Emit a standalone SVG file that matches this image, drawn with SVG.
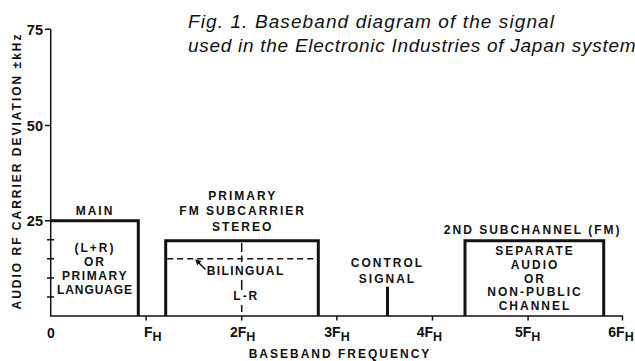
<svg xmlns="http://www.w3.org/2000/svg" width="635" height="361" viewBox="0 0 635 361">
<style>
text{font-family:"Liberation Sans",Arial,sans-serif;fill:#111;}
.lb{font-size:12px;font-weight:bold;letter-spacing:2px;text-anchor:middle;}
.ax{font-size:14px;font-weight:bold;}
.sub{font-size:12.5px;}
.yt{font-size:14.5px;font-weight:bold;text-anchor:end;}
.title{font-size:19px;font-style:italic;letter-spacing:1.1px;}
.thin{fill:none;stroke:#111;stroke-width:1.5;}
.thick{fill:none;stroke:#111;stroke-width:3;}
.dash{fill:none;stroke:#111;stroke-width:1.5;stroke-dasharray:6 4;}
</style>
<defs>
<marker id="ah" viewBox="0 0 10 10" refX="1" refY="5" markerWidth="6" markerHeight="6" orient="auto-start-reverse" markerUnits="userSpaceOnUse">
<path d="M0,0 L10,5 L0,10 z" fill="#111"/>
</marker>
</defs>
<rect width="635" height="361" fill="#fff"/>
<g id="title">
<text class="title" x="188" y="28">Fig. 1. Baseband diagram of the signal</text>
<text class="title" x="188" y="52" style="letter-spacing:0.72px">used in the Electronic Industries of Japan system</text>
</g>
<g id="axes">
<path class="thin" d="M50.7,29.3 V316 H623"/>
<path class="thin" d="M45,29.3 H50.7 M45,125.5 H50.7 M45,220.7 H50.7"/>
<path class="thin" d="M47,239.8 H54 M47,258.8 H54 M47,277.9 H54 M47,296.9 H54"/>
<path class="thin" d="M146.1,316 V320.5 M241.7,316 V320.5 M336.9,316 V320.5 M432.5,316 V320.5 M528.1,316 V320.5 M622.5,316 V320.5"/>
<text class="yt" x="43" y="34.5">75</text>
<text class="yt" x="43" y="131">50</text>
<text class="yt" x="43" y="226">25</text>
<text class="ax" x="51" y="338" text-anchor="middle">0</text>
<text class="ax" x="144" y="336.7">F<tspan class="sub" dy="4">H</tspan></text>
<text class="ax" x="230" y="336.7">2F<tspan class="sub" dy="4">H</tspan></text>
<text class="ax" x="324.3" y="336.7">3F<tspan class="sub" dy="4">H</tspan></text>
<text class="ax" x="416.7" y="336.7">4F<tspan class="sub" dy="4">H</tspan></text>
<text class="ax" x="515" y="336.7">5F<tspan class="sub" dy="4">H</tspan></text>
<text class="ax" x="608.3" y="336.7">6F<tspan class="sub" dy="4">H</tspan></text>
<text class="lb" x="340" y="358">BASEBAND FREQUENCY</text>
<text class="lb" transform="translate(21,171) rotate(-90)">AUDIO RF CARRIER DEVIATION ±kHz</text>
</g>
<g id="main">
<path class="thick" d="M50.7,220.7 H138.3 V316"/>
<text class="lb" x="95" y="215">MAIN</text>
<text class="lb" x="95" y="252">(L+R)</text>
<text class="lb" x="95" y="266">OR</text>
<text class="lb" x="95" y="280" style="letter-spacing:1.6px">PRIMARY</text>
<text class="lb" x="95" y="294" style="letter-spacing:0.9px">LANGUAGE</text>
</g>
<g id="stereo">
<path class="thick" d="M165.7,316 V240.7 H318.3 V316"/>
<path class="dash" d="M167.2,258.8 H317"/>
<path class="thin" d="M241.7,243 V252 M241.7,255.5 V262 M241.7,280 V290 M241.7,305 V312"/>
<text class="lb" x="242.7" y="199.5">PRIMARY</text>
<text class="lb" x="242.7" y="215">FM SUBCARRIER</text>
<text class="lb" x="242.7" y="230.5">STEREO</text>
<text class="lb" x="206.7" y="275" style="text-anchor:start;letter-spacing:1.4px">BILINGUAL</text>
<text class="lb" x="233.3" y="300" style="text-anchor:start">L-R</text>
</g>
<g id="control">
<path class="thick" d="M387.5,286.7 V316"/>
<text class="lb" x="387.5" y="267.3">CONTROL</text>
<text class="lb" x="387.5" y="282.7">SIGNAL</text>
</g>
<g id="subchannel2">
<path class="thick" d="M465,316 V240.7 H603.7 V316"/>
<text class="lb" x="532.7" y="234">2ND SUBCHANNEL (FM)</text>
<text class="lb" x="535" y="255">SEPARATE</text>
<text class="lb" x="535" y="268.5">AUDIO</text>
<text class="lb" x="535" y="282.5">OR</text>
<text class="lb" x="535" y="296">NON-PUBLIC</text>
<text class="lb" x="535" y="310">CHANNEL</text>
</g>
<g id="connectors">
<path class="thin" d="M205.5,269.5 L199,263" marker-end="url(#ah)"/>
</g>
</svg>
